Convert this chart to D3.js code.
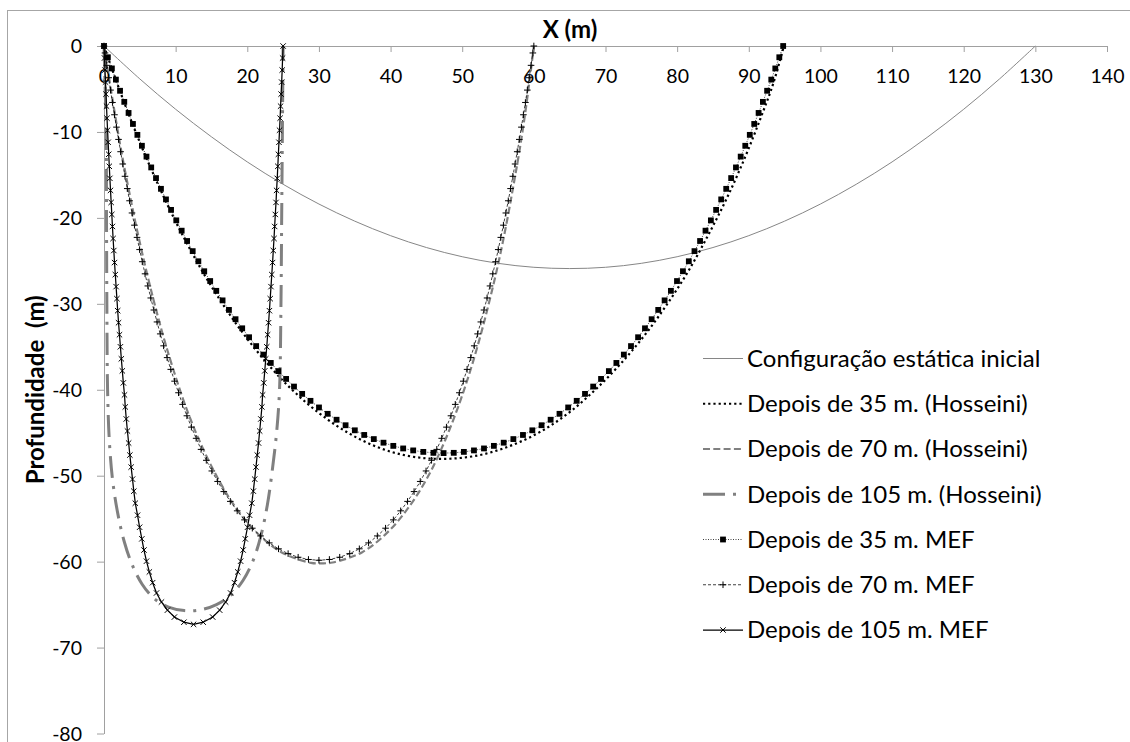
<!DOCTYPE html>
<html lang="pt">
<head>
  <meta charset="UTF-8" />
  <title>Profundidade x X</title>
  <style>
    body { margin: 0; background: #fff; }
    svg { display: block; font-family: "Lato", "Open Sans", sans-serif; }
    .axis text { font-family: "Lato", "Open Sans", sans-serif; font-size: 19.5px; fill: #000; }
    .axis path, .axis line { stroke: #a0a0a0; }
    .title { font-size: 24px; font-weight: bold; fill: #000; }
    .legend text { font-size: 24px; fill: #000; }
  </style>
</head>
<body>
  <svg width="1130" height="742"></svg>

  <script src="https://cdn.jsdelivr.net/npm/d3@7"></script>
  <script>
    // tick values
    const xTicks = [0, 10, 20, 30, 40, 50, 60, 70, 80, 90, 100, 110, 120, 130, 140];
    const yTicks = [0, -10, -20, -30, -40, -50, -60, -70, -80];

    const legendLabels = [
      "Configuração estática inicial",
      "Depois de 35 m. (Hosseini)",
      "Depois de 70 m. (Hosseini)",
      "Depois de 105 m. (Hosseini)",
      "Depois de 35 m. MEF",
      "Depois de 70 m. MEF",
      "Depois de 105 m. MEF"
    ];

    // [x, profundidade]
    const configInicial = [[0,0],[5,-3.83],[10,-7.36],[15,-10.57],[20,-13.49],[25,-16.09],[30,-18.39],[35,-20.38],[40,-22.07],[45,-23.45],[50,-24.52],[55,-25.29],[60,-25.75],[65,-25.9],[70,-25.75],[75,-25.29],[80,-24.52],[85,-23.45],[90,-22.07],[95,-20.38],[100,-18.39],[105,-16.09],[110,-13.49],[115,-10.57],[120,-7.36],[125,-3.83],[130,0]];

    const hosseini35 = [[0,0],[1.66,-3.95],[3.43,-7.9],[5.29,-11.8],[7.26,-15.6],[9.36,-19.35],[11.6,-23.0],[14.0,-26.6],[16.55,-30.0],[19.3,-33.3],[22.24,-36.4],[25.4,-39.3],[28.8,-41.9],[32.5,-44.2],[36.3,-46.0],[40.4,-47.3],[44.6,-47.95],[48.8,-48.0],[53.0,-47.5],[57.1,-46.4],[61.1,-44.8],[65.0,-42.6],[68.7,-39.9],[72.3,-36.8],[75.7,-33.4],[78.8,-29.8],[81.7,-26.0],[84.4,-21.9],[87.0,-17.6],[89.4,-13.1],[91.6,-8.5],[93.4,-4.4],[94.9,0]];

    const hosseini70 = [[0,0],[0.7,-3.7],[1.55,-8.05],[2.45,-12.4],[3.45,-16.7],[4.5,-21.0],[5.65,-25.25],[6.9,-29.5],[8.25,-33.7],[9.75,-37.85],[11.4,-41.95],[13.3,-45.9],[15.5,-49.7],[18.05,-53.3],[21.1,-56.45],[24.75,-58.9],[28.9,-60.15],[30.4,-60.2],[31.9,-60.1],[36.05,-58.9],[39.75,-56.45],[42.85,-53.3],[45.45,-49.75],[47.6,-45.9],[49.45,-41.95],[51.1,-37.85],[52.55,-33.7],[53.85,-29.5],[55.05,-25.25],[56.1,-21.0],[57.05,-16.7],[57.95,-12.4],[58.75,-8.05],[59.45,-3.7],[60,0]];

    const hosseini105 = [[0,0],[0.3,-10],[0.35,-20],[0.4,-30],[0.5,-40],[0.75,-46],[1.2,-50.5],[1.9,-54.3],[2.8,-57.6],[3.9,-60.3],[5.3,-62.6],[7.0,-64.3],[9.0,-65.3],[11.2,-65.7],[13.5,-65.6],[15.7,-65.0],[17.7,-63.9],[19.4,-62.2],[20.8,-59.9],[21.9,-57.0],[22.8,-53.4],[23.5,-49.3],[24.1,-44.9],[24.5,-40],[24.7,-30],[24.8,-20],[24.9,-10],[25,0]];

    const mef35 = [[0,0],[0.54,-1.31],[1.10,-2.61],[1.66,-3.91],[2.24,-5.21],[2.83,-6.50],[3.43,-7.79],[4.04,-9.07],[4.66,-10.34],[5.29,-11.61],[5.93,-12.87],[6.59,-14.13],[7.26,-15.37],[7.95,-16.62],[8.65,-17.85],[9.36,-19.07],[10.09,-20.29],[10.84,-21.49],[11.60,-22.69],[12.38,-23.87],[13.17,-25.05],[13.99,-26.21],[14.82,-27.35],[15.67,-28.49],[16.55,-29.60],[17.44,-30.71],[18.36,-31.79],[19.29,-32.85],[20.25,-33.89],[21.24,-34.92],[22.24,-35.91],[23.28,-36.88],[24.33,-37.83],[25.42,-38.74],[26.52,-39.63],[27.66,-40.48],[28.82,-41.29],[30.01,-42.06],[31.22,-42.80],[32.46,-43.49],[33.72,-44.13],[35.01,-44.72],[36.32,-45.26],[37.66,-45.74],[39.01,-46.16],[40.38,-46.53],[41.76,-46.83],[43.16,-47.06],[44.57,-47.23],[45.98,-47.34],[47.40,-47.37],[48.82,-47.34],[50.23,-47.23],[51.64,-47.06],[53.04,-46.83],[54.42,-46.53],[55.79,-46.16],[57.14,-45.74],[58.48,-45.26],[59.79,-44.72],[61.08,-44.13],[62.34,-43.49],[63.58,-42.80],[64.79,-42.06],[65.98,-41.29],[67.14,-40.48],[68.28,-39.63],[69.38,-38.74],[70.47,-37.83],[71.52,-36.88],[72.56,-35.91],[73.56,-34.92],[74.55,-33.89],[75.51,-32.85],[76.44,-31.79],[77.36,-30.71],[78.25,-29.60],[79.13,-28.49],[79.98,-27.35],[80.81,-26.21],[81.63,-25.05],[82.42,-23.87],[83.20,-22.69],[83.96,-21.49],[84.71,-20.29],[85.44,-19.07],[86.15,-17.85],[86.85,-16.62],[87.54,-15.37],[88.21,-14.13],[88.87,-12.87],[89.51,-11.61],[90.14,-10.34],[90.76,-9.07],[91.37,-7.79],[91.97,-6.50],[92.56,-5.21],[93.14,-3.91],[93.70,-2.61],[94.26,-1.31],[94.80,0]];

    const mef70 = [[0,0],[0.14,-0.81],[0.39,-2.25],[0.65,-3.69],[0.91,-5.13],[1.18,-6.57],[1.46,-8.00],[1.74,-9.44],[2.03,-10.87],[2.32,-12.30],[2.62,-13.73],[2.93,-15.16],[3.25,-16.59],[3.57,-18.01],[3.91,-19.43],[4.25,-20.85],[4.61,-22.27],[4.97,-23.69],[5.34,-25.10],[5.73,-26.51],[6.12,-27.92],[6.53,-29.32],[6.96,-30.72],[7.40,-32.11],[7.85,-33.50],[8.32,-34.89],[8.81,-36.26],[9.32,-37.63],[9.85,-39.00],[10.40,-40.35],[10.97,-41.70],[11.57,-43.03],[12.20,-44.35],[12.86,-45.65],[13.55,-46.94],[14.28,-48.21],[15.05,-49.45],[15.86,-50.67],[16.72,-51.85],[17.63,-52.99],[18.59,-54.09],[19.61,-55.14],[20.70,-56.11],[21.85,-57.01],[23.07,-57.82],[24.36,-58.51],[25.70,-59.07],[27.10,-59.49],[28.54,-59.75],[30.00,-59.84],[31.46,-59.75],[32.90,-59.49],[34.30,-59.07],[35.64,-58.51],[36.93,-57.82],[38.15,-57.01],[39.30,-56.11],[40.39,-55.14],[41.41,-54.09],[42.37,-52.99],[43.28,-51.85],[44.14,-50.67],[44.95,-49.45],[45.72,-48.21],[46.45,-46.94],[47.14,-45.65],[47.80,-44.35],[48.43,-43.03],[49.03,-41.70],[49.60,-40.35],[50.15,-39.00],[50.68,-37.63],[51.19,-36.26],[51.68,-34.89],[52.15,-33.50],[52.60,-32.11],[53.04,-30.72],[53.47,-29.32],[53.88,-27.92],[54.27,-26.51],[54.66,-25.10],[55.03,-23.69],[55.39,-22.27],[55.75,-20.85],[56.09,-19.43],[56.43,-18.01],[56.75,-16.59],[57.07,-15.16],[57.38,-13.73],[57.68,-12.30],[57.97,-10.87],[58.26,-9.44],[58.54,-8.00],[58.82,-6.57],[59.09,-5.13],[59.35,-3.69],[59.61,-2.25],[59.86,-0.81],[60.00,0]];

    const mef105 = [[0,0],[0.07,-1.4],[0.14,-2.8],[0.21,-4.2],[0.28,-5.6],[0.35,-7.0],[0.42,-8.4],[0.50,-9.8],[0.58,-11.2],[0.66,-12.6],[0.74,-14.0],[0.82,-15.4],[0.91,-16.8],[1.00,-18.2],[1.09,-19.6],[1.18,-21.0],[1.27,-22.4],[1.37,-23.8],[1.47,-25.2],[1.58,-26.6],[1.69,-28.0],[1.80,-29.4],[1.91,-30.8],[2.03,-32.2],[2.16,-33.6],[2.29,-35.0],[2.42,-36.4],[2.56,-37.8],[2.70,-39.2],[2.86,-40.6],[2.97,-42.0],[3.11,-43.4],[3.27,-44.8],[3.44,-46.2],[3.61,-47.6],[3.79,-49.0],[3.98,-50.4],[4.16,-51.8],[4.37,-53.2],[4.68,-54.6],[4.97,-56.0],[5.28,-57.35],[5.58,-58.65],[5.93,-59.95],[6.33,-61.2],[6.79,-62.45],[7.33,-63.65],[8.02,-64.7],[8.85,-65.65],[9.83,-66.45],[11.15,-67.05],[12.5,-67.3],[13.85,-67.05],[15.17,-66.45],[16.15,-65.65],[16.98,-64.7],[17.67,-63.65],[18.21,-62.45],[18.67,-61.2],[19.07,-59.95],[19.42,-58.65],[19.72,-57.35],[20.03,-56.0],[20.32,-54.6],[20.63,-53.2],[20.84,-51.8],[21.03,-50.4],[21.21,-49.0],[21.39,-47.6],[21.57,-46.2],[21.73,-44.8],[21.89,-43.4],[22.04,-42.0],[22.14,-40.6],[22.30,-39.2],[22.44,-37.8],[22.58,-36.4],[22.72,-35.0],[22.84,-33.6],[22.97,-32.2],[23.09,-30.8],[23.20,-29.4],[23.31,-28.0],[23.42,-26.6],[23.53,-25.2],[23.63,-23.8],[23.73,-22.4],[23.82,-21.0],[23.91,-19.6],[24.01,-18.2],[24.09,-16.8],[24.18,-15.4],[24.26,-14.0],[24.34,-12.6],[24.42,-11.2],[24.50,-9.8],[24.58,-8.4],[24.65,-7.0],[24.72,-5.6],[24.80,-4.2],[24.87,-2.8],[24.93,-1.4],[25.00,0]];

    const width = 1130;
    const height = 742;
    const svg = d3.select("svg");

    const x = d3.scaleLinear().domain([0, 140]).range([104, 1107]);
    const y = d3.scaleLinear().domain([-80, 0]).range([733.5, 46]);

    // chart area border (only left and top edges show)
    svg.append("rect")
      .attr("x", 7.5).attr("y", 10.5)
      .attr("width", 1300).attr("height", 900)
      .attr("fill", "none")
      .attr("stroke", "#a6a6a6");

    // axes
    svg.append("g")
      .attr("class", "axis")
      .attr("transform", `translate(0,${y(0)})`)
      .call(d3.axisBottom(x).tickValues(xTicks).tickSize(6).tickSizeOuter(0).tickPadding(17).tickFormat(d => String(d)));

    svg.append("g")
      .attr("class", "axis")
      .attr("transform", `translate(${x(0)},0)`)
      .call(d3.axisLeft(y).tickValues(yTicks).tickSize(7).tickSizeOuter(0).tickPadding(15).tickFormat(d => String(d)))
      .selectAll("text").attr("dy", "0.34em");

    // titles
    svg.append("text")
      .attr("class", "title")
      .attr("x", 570).attr("y", 38)
      .attr("text-anchor", "middle")
      .text("X (m)");

    svg.append("text")
      .attr("class", "title")
      .attr("transform", `translate(43.5,${(y(0) + y(-80)) / 2}) rotate(-90)`)
      .attr("text-anchor", "middle")
      .style("white-space", "pre")
      .text("Profundidade  (m)");

    const smooth = d3.line().x(d => x(d[0])).y(d => y(d[1])).curve(d3.curveCatmullRom.alpha(0.5));
    const straight = d3.line().x(d => x(d[0])).y(d => y(d[1]));

    // series styles
    const series = [
      { data: configInicial, line: smooth, stroke: "#868686", width: 1, dash: null, marker: null },
      { data: hosseini35, line: smooth, stroke: "#000", width: 2.2, dash: "2.2,3", marker: null },
      { data: hosseini70, line: smooth, stroke: "#808080", width: 2.2, dash: "7,3.3", marker: null },
      { data: hosseini105, line: smooth, stroke: "#808080", width: 3, dash: "22,8,3,8", marker: null },
      { data: mef35, line: straight, stroke: "#000", width: 0.75, dash: "1,1.5", marker: "square" },
      { data: mef70, line: straight, stroke: "#000", width: 0.75, dash: "3,2", marker: "plus" },
      { data: mef105, line: straight, stroke: "#000", width: 1.25, dash: null, marker: "cross" }
    ];

    function drawMarker(sel, type) {
      if (type === "square") {
        sel.append("rect")
          .attr("x", -2.9).attr("y", -2.9)
          .attr("width", 5.8).attr("height", 5.8)
          .attr("fill", "#000");
      } else if (type === "plus") {
        sel.append("path")
          .attr("d", "M-3.3,0H3.3M0,-3.3V3.3")
          .attr("stroke", "#000").attr("stroke-width", 1).attr("fill", "none");
      } else if (type === "cross") {
        sel.append("path")
          .attr("d", "M-2.7,-2.7L2.7,2.7M-2.7,2.7L2.7,-2.7")
          .attr("stroke", "#000").attr("stroke-width", 1).attr("fill", "none");
      }
    }

    series.forEach(s => {
      const g = svg.append("g");
      g.append("path")
        .datum(s.data)
        .attr("d", s.line)
        .attr("fill", "none")
        .attr("stroke", s.stroke)
        .attr("stroke-width", s.width)
        .attr("stroke-dasharray", s.dash);

      if (s.marker) {
        g.selectAll("g.mk")
          .data(s.data)
          .enter()
          .append("g")
          .attr("class", "mk")
          .attr("transform", d => `translate(${x(d[0])},${y(d[1])})`)
          .each(function () { drawMarker(d3.select(this), s.marker); });
      }
    });

    // legend
    const legend = svg.append("g").attr("class", "legend");
    legendLabels.forEach((label, i) => {
      const s = series[i];
      const ly = 358.5 + i * 45.25;
      legend.append("line")
        .attr("x1", 703).attr("x2", 743)
        .attr("y1", ly).attr("y2", ly)
        .attr("stroke", s.stroke)
        .attr("stroke-width", s.width)
        .attr("stroke-dasharray", s.dash);
      if (s.marker) {
        const m = legend.append("g").attr("transform", `translate(723,${ly})`);
        drawMarker(m, s.marker);
      }
      legend.append("text")
        .attr("x", 747).attr("y", ly)
        .attr("dy", "0.35em")
        .text(label);
    });
  </script>
</body>
</html>
